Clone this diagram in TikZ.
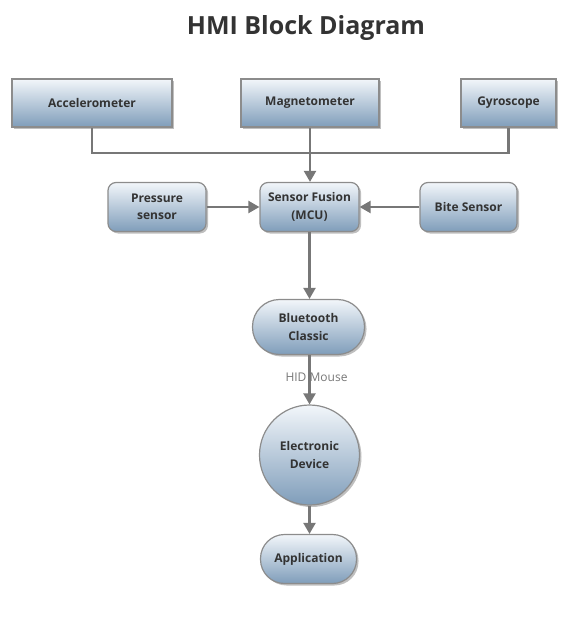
\documentclass[tikz,border=0pt]{standalone}
\usepackage{fontspec}
\setmainfont{Open Sans}
\usetikzlibrary{arrows.meta,shadows}
\definecolor{edgegray}{HTML}{8C8C8C}
\definecolor{linegray}{HTML}{777777}
\definecolor{toptone}{HTML}{F2F6FA}
\definecolor{bottone}{HTML}{7F9DBA}
\definecolor{txt}{HTML}{333333}
\begin{document}
\begin{tikzpicture}[x=1pt,y=-1pt,
  base/.style={draw=edgegray, line width=1.2pt, top color=toptone, bottom color=bottone,
    drop shadow={shadow xshift=2pt, shadow yshift=-2pt, fill=black, opacity=0.25},
    font=\fontsize{12}{17.5}\selectfont\bfseries, text=txt, align=center, inner sep=0pt},
  sqbox/.style={base, rectangle, minimum width=160pt, minimum height=48pt},
  rbox/.style={base, rectangle, rounded corners=8pt, minimum width=98pt, minimum height=49pt},
  pill/.style={base, rectangle, rounded corners=#1},
  disc/.style={base, circle, minimum size=100pt},
  conn/.style={draw=linegray, line width=2.2pt},
  arr/.style={conn, -{Triangle[length=11pt,width=12pt]}}
]
\useasboundingbox (0,0) rectangle (581,620);
\node[font=\fontsize{25}{29}\selectfont\bfseries, text=txt] (title) at (306,28) {HMI Block Diagram};

\node[sqbox, minimum width=160pt] (acc) at (92,103) {Accelerometer};
\node[sqbox, minimum width=138pt] (mag) at (310,103) {Magnetometer};
\node[sqbox, minimum width=95pt] (gyr) at (508.5,103) {Gyroscope};

\node[rbox] (pre) at (157,207) {Pressure\\sensor};
\node[rbox, minimum width=99pt] (fus) at (309.5,207) {Sensor Fusion\\(MCU)};
\node[rbox, minimum width=97pt] (bit) at (468.5,207) {Bite Sensor};

\node[pill=27pt, minimum width=112pt, minimum height=55pt] (bt) at (308.5,327) {Bluetooth\\Classic};
\node[disc] (dev) at (309.5,455) {Electronic\\Device};
\node[pill=24pt, minimum width=96pt, minimum height=49pt] (app) at (308.5,559) {Application};

\coordinate (j) at (310,153);
\draw[conn] (acc.south) |- (j) -| (gyr.south);
\draw[arr] (mag.south) -- (fus.north -| mag.south);
\draw[arr] (pre.east) -- (fus.west);
\draw[arr] (bit.west) -- (fus.east);
\draw[arr] (fus.south) -- (bt.north -| fus.south);
\draw[arr] (bt.south -| dev.north) -- (dev.north)
  node[pos=0.45, xshift=7pt, font=\fontsize{12}{15}\selectfont, text=linegray] (hid) {HID Mouse};
\draw[arr] (dev.south) -- (app.north -| dev.south);
\end{tikzpicture}
\end{document}
